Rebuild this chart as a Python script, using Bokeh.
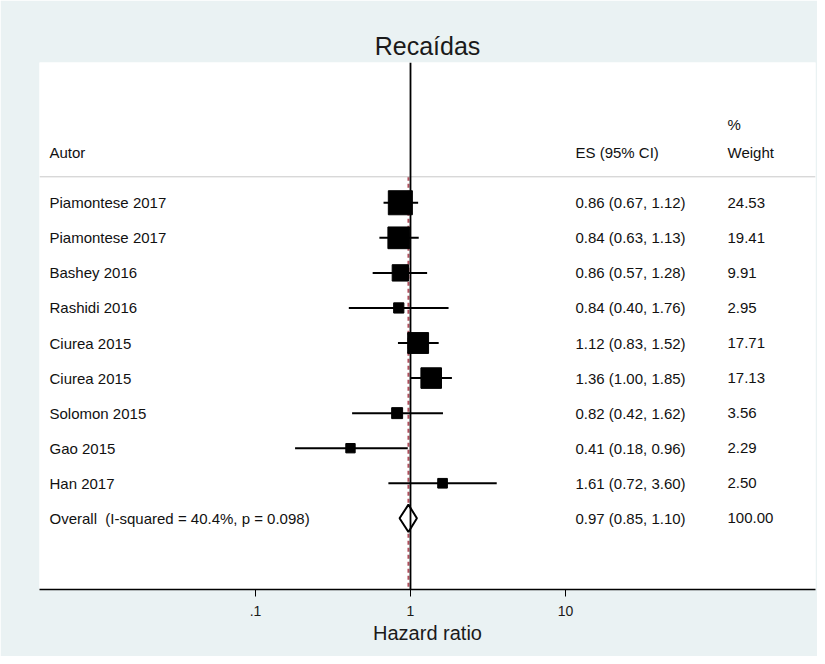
import numpy as np
from bokeh.plotting import figure
from bokeh.models import Range1d, FixedTicker, Span, ColumnDataSource
from bokeh.core.properties import value
from bokeh.embed import file_html
from bokeh.resources import INLINE

# ---- data ----
studies = ["Piamontese 2017", "Piamontese 2017", "Bashey 2016", "Rashidi 2016",
           "Ciurea 2015", "Ciurea 2015", "Solomon 2015", "Gao 2015", "Han 2017"]
es = [0.86, 0.84, 0.86, 0.84, 1.12, 1.36, 0.82, 0.41, 1.61]
lo = [0.67, 0.63, 0.57, 0.40, 0.83, 1.00, 0.42, 0.18, 0.72]
hi = [1.12, 1.13, 1.28, 1.76, 1.52, 1.85, 1.62, 0.96, 3.60]
weight = [24.53, 19.41, 9.91, 2.95, 17.71, 17.13, 3.56, 2.29, 2.50]
overall_es, overall_lo, overall_hi, overall_wt = 0.97, 0.85, 1.10, 100.00
i_squared, p_value = 40.4, 0.098
tick_values = [0.1, 1, 10]
tick_labels = [".1", "1", "10"]

FONT = "Liberation Sans"
BG = "#eaf2f3"

def px2x(px):
    # horizontal pixel -> data (log scale), 1 at 410px, 155px per decade
    return 10 ** ((px - 410) / 155.0)

p = figure(width=817, height=656, x_axis_type="log",
           x_range=Range1d(px2x(39), px2x(815)), y_range=Range1d(11.03, -4),
           output_backend="svg", toolbar_location=None,
           min_border_left=39, min_border_right=2, min_border_top=62, min_border_bottom=67,
           background_fill_color="white", border_fill_color=BG, outline_line_color=None)

p.title.text = "Recaídas"
p.title.align = "center"
p.title.text_font = FONT
p.title.text_font_size = "25px"
p.title.text_font_style = "normal"
p.title.text_color = "#1a1a1a"
p.title.standoff = 5

p.yaxis.visible = False
p.grid.visible = False

ax = p.xaxis[0]
ax.ticker = FixedTicker(ticks=tick_values)
ax.major_label_overrides = {v: l for v, l in zip(tick_values, tick_labels)}
ax.minor_tick_line_color = None
ax.major_tick_in = 0
ax.major_tick_out = 7
ax.major_tick_line_color = "black"
ax.axis_line_color = "black"
ax.axis_line_width = 1.5
ax.major_label_text_font = FONT
ax.major_label_text_font_size = "14px"
ax.major_label_text_color = "#1a1a1a"
ax.major_label_standoff = 9
ax.axis_label = "Hazard ratio"
ax.axis_label_text_font = FONT
ax.axis_label_text_font_size = "20px"
ax.axis_label_text_font_style = "normal"
ax.axis_label_text_color = "#1a1a1a"
ax.axis_label_standoff = 3

rows = list(range(len(studies)))
overall_row = len(studies)

# header separator
p.add_layout(Span(location=-0.74, dimension="width", line_color="#c8c8c8", line_width=1))
# null line
p.add_layout(Span(location=1, dimension="height", line_color="black", line_width=1.8))
# overall dashed line
p.segment(x0=[overall_es], y0=[-0.74], x1=[overall_es], y1=[11.03],
          line_color="#b0505e", line_width=2, line_dash="4 3")

# CIs and squares
src = ColumnDataSource(dict(
    y=rows, es=es, lo=lo, hi=hi,
    size=[4.27 * np.sqrt(w) + 2.9 for w in weight],
))
p.segment(x0="lo", y0="y", x1="hi", y1="y", source=src, line_color="black", line_width=2)
p.scatter(x="es", y="y", size="size", marker="square", source=src,
          fill_color="black", line_color="black")

# overall diamond
h = 0.39
p.patch(x=[overall_lo, overall_es, overall_hi, overall_es],
        y=[overall_row, overall_row - h, overall_row, overall_row + h],
        fill_color="white", line_color="black", line_width=2)

# text columns
label_x = px2x(49)
es_x = px2x(575)
wt_x = px2x(727)

left_txt = studies + [f"Overall\u00a0 (I-squared = {i_squared:.1f}%, p = {p_value:.3f})"]
es_txt = [f"{e:.2f} ({l:.2f}, {u:.2f})" for e, l, u in zip(es, lo, hi)] + \
         [f"{overall_es:.2f} ({overall_lo:.2f}, {overall_hi:.2f})"]
wt_txt = [f"{w:.2f}" for w in weight] + [f"{overall_wt:.2f}"]
all_rows = rows + [overall_row]

common = dict(text_font=value(FONT), text_font_size="15px", text_color="#111111",
              text_baseline="middle", text_align="left")
p.text(x=[label_x] * len(all_rows), y=all_rows, text=left_txt, **common)
p.text(x=[es_x] * len(all_rows), y=all_rows, text=es_txt, **common)
p.text(x=[wt_x] * len(all_rows), y=all_rows, text=wt_txt, **common)

# headers
p.text(x=[label_x, es_x, wt_x], y=[-1.43] * 3, text=["Autor", "ES (95% CI)", "Weight"], **common)
p.text(x=[wt_x], y=[-2.23], text=["%"], **common)

open("out.html", "w").write(file_html(p, INLINE))
